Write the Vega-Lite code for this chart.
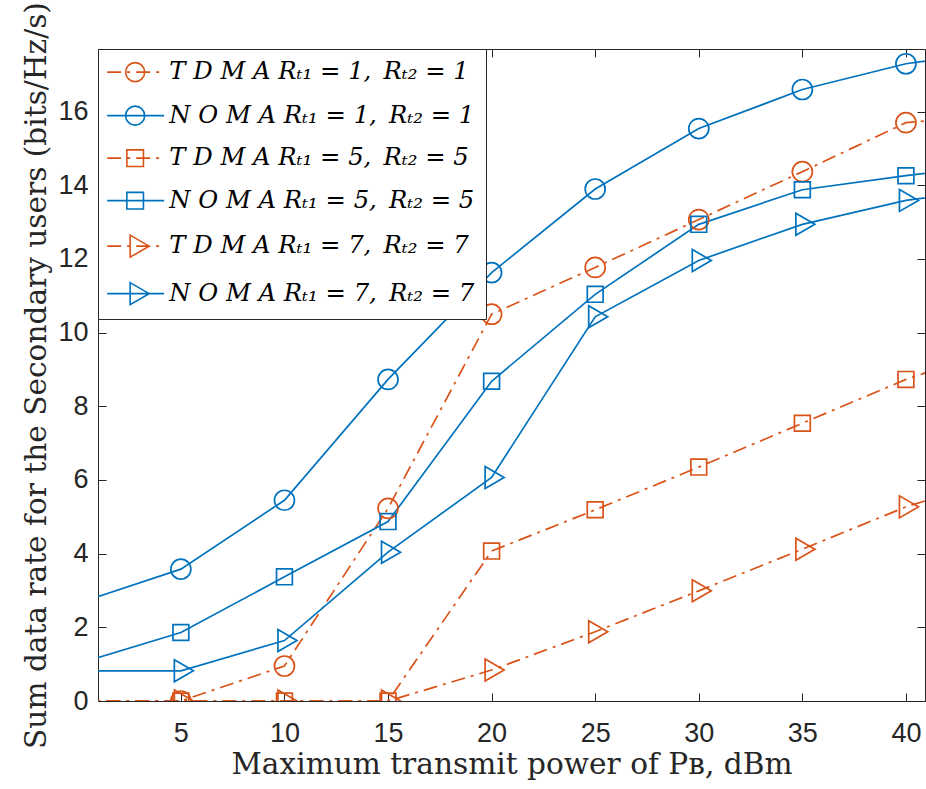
{
  "$schema": "https://vega.github.io/schema/vega-lite/v6.json",
  "width": 827,
  "height": 652,
  "autosize": "none",
  "padding": {"left": 98, "top": 49, "right": 1, "bottom": 88},
  "background": "white",
  "config": {
    "view": {"stroke": "#262626", "strokeWidth": 1},
    "axis": {
      "grid": false,
      "domainColor": "#262626",
      "tickColor": "#262626",
      "labelColor": "#262626",
      "titleColor": "#262626",
      "labelFont": "Liberation Sans",
      "labelFontSize": 27,
      "titleFont": "DejaVu Serif",
      "titleFontSize": 29.6,
      "titleFontWeight": "normal",
      "tickSize": -8,
      "tickWidth": 1,
      "domainWidth": 1
    },
    "legend": {
      "orient": "top-left",
      "offset": 0,
      "padding": 11,
      "fillColor": "white",
      "strokeColor": "#262626",
      "labelFont": "DejaVu Serif",
      "labelFontStyle": "italic",
      "labelFontSize": 24.3,
      "labelColor": "black",
      "labelLimit": 0,
      "symbolSize": 400,
      "symbolStrokeWidth": 1.6,
      "symbolFillColor": "transparent",
      "labelOffset": 36,
      "rowPadding": 17.5
    }
  },
  "data": {
    "values": [
      {"series": "T D M A Rₜ₁ = 1,\u2002Rₜ₂ = 1", "x": 0, "y": 0},
      {"series": "T D M A Rₜ₁ = 1,\u2002Rₜ₂ = 1", "x": 5, "y": 0},
      {"series": "T D M A Rₜ₁ = 1,\u2002Rₜ₂ = 1", "x": 10, "y": 0.95},
      {"series": "T D M A Rₜ₁ = 1,\u2002Rₜ₂ = 1", "x": 15, "y": 5.23},
      {"series": "T D M A Rₜ₁ = 1,\u2002Rₜ₂ = 1", "x": 20, "y": 10.5},
      {"series": "T D M A Rₜ₁ = 1,\u2002Rₜ₂ = 1", "x": 25, "y": 11.77},
      {"series": "T D M A Rₜ₁ = 1,\u2002Rₜ₂ = 1", "x": 30, "y": 13.07},
      {"series": "T D M A Rₜ₁ = 1,\u2002Rₜ₂ = 1", "x": 35, "y": 14.37},
      {"series": "T D M A Rₜ₁ = 1,\u2002Rₜ₂ = 1", "x": 40, "y": 15.7},
      {"series": "T D M A Rₜ₁ = 1,\u2002Rₜ₂ = 1", "x": 45, "y": 15.95},
      {"series": "N O M A Rₜ₁ = 1,\u2002Rₜ₂ = 1", "x": 0, "y": 2.65},
      {"series": "N O M A Rₜ₁ = 1,\u2002Rₜ₂ = 1", "x": 5, "y": 3.58},
      {"series": "N O M A Rₜ₁ = 1,\u2002Rₜ₂ = 1", "x": 10, "y": 5.45},
      {"series": "N O M A Rₜ₁ = 1,\u2002Rₜ₂ = 1", "x": 15, "y": 8.73},
      {"series": "N O M A Rₜ₁ = 1,\u2002Rₜ₂ = 1", "x": 20, "y": 11.63},
      {"series": "N O M A Rₜ₁ = 1,\u2002Rₜ₂ = 1", "x": 25, "y": 13.9},
      {"series": "N O M A Rₜ₁ = 1,\u2002Rₜ₂ = 1", "x": 30, "y": 15.54},
      {"series": "N O M A Rₜ₁ = 1,\u2002Rₜ₂ = 1", "x": 35, "y": 16.6},
      {"series": "N O M A Rₜ₁ = 1,\u2002Rₜ₂ = 1", "x": 40, "y": 17.3},
      {"series": "N O M A Rₜ₁ = 1,\u2002Rₜ₂ = 1", "x": 45, "y": 17.7},
      {"series": "T D M A Rₜ₁ = 5,\u2002Rₜ₂ = 5", "x": 0, "y": 0},
      {"series": "T D M A Rₜ₁ = 5,\u2002Rₜ₂ = 5", "x": 5, "y": 0},
      {"series": "T D M A Rₜ₁ = 5,\u2002Rₜ₂ = 5", "x": 10, "y": 0},
      {"series": "T D M A Rₜ₁ = 5,\u2002Rₜ₂ = 5", "x": 15, "y": 0},
      {"series": "T D M A Rₜ₁ = 5,\u2002Rₜ₂ = 5", "x": 20, "y": 4.07},
      {"series": "T D M A Rₜ₁ = 5,\u2002Rₜ₂ = 5", "x": 25, "y": 5.19},
      {"series": "T D M A Rₜ₁ = 5,\u2002Rₜ₂ = 5", "x": 30, "y": 6.35},
      {"series": "T D M A Rₜ₁ = 5,\u2002Rₜ₂ = 5", "x": 35, "y": 7.54},
      {"series": "T D M A Rₜ₁ = 5,\u2002Rₜ₂ = 5", "x": 40, "y": 8.73},
      {"series": "T D M A Rₜ₁ = 5,\u2002Rₜ₂ = 5", "x": 45, "y": 9.68},
      {"series": "N O M A Rₜ₁ = 5,\u2002Rₜ₂ = 5", "x": 0, "y": 1.01},
      {"series": "N O M A Rₜ₁ = 5,\u2002Rₜ₂ = 5", "x": 5, "y": 1.86},
      {"series": "N O M A Rₜ₁ = 5,\u2002Rₜ₂ = 5", "x": 10, "y": 3.37},
      {"series": "N O M A Rₜ₁ = 5,\u2002Rₜ₂ = 5", "x": 15, "y": 4.87},
      {"series": "N O M A Rₜ₁ = 5,\u2002Rₜ₂ = 5", "x": 20, "y": 8.68},
      {"series": "N O M A Rₜ₁ = 5,\u2002Rₜ₂ = 5", "x": 25, "y": 11.04},
      {"series": "N O M A Rₜ₁ = 5,\u2002Rₜ₂ = 5", "x": 30, "y": 12.94},
      {"series": "N O M A Rₜ₁ = 5,\u2002Rₜ₂ = 5", "x": 35, "y": 13.88},
      {"series": "N O M A Rₜ₁ = 5,\u2002Rₜ₂ = 5", "x": 40, "y": 14.26},
      {"series": "N O M A Rₜ₁ = 5,\u2002Rₜ₂ = 5", "x": 45, "y": 14.62},
      {"series": "T D M A Rₜ₁ = 7,\u2002Rₜ₂ = 7", "x": 0, "y": 0},
      {"series": "T D M A Rₜ₁ = 7,\u2002Rₜ₂ = 7", "x": 5, "y": 0},
      {"series": "T D M A Rₜ₁ = 7,\u2002Rₜ₂ = 7", "x": 10, "y": 0},
      {"series": "T D M A Rₜ₁ = 7,\u2002Rₜ₂ = 7", "x": 15, "y": 0},
      {"series": "T D M A Rₜ₁ = 7,\u2002Rₜ₂ = 7", "x": 20, "y": 0.84},
      {"series": "T D M A Rₜ₁ = 7,\u2002Rₜ₂ = 7", "x": 25, "y": 1.88},
      {"series": "T D M A Rₜ₁ = 7,\u2002Rₜ₂ = 7", "x": 30, "y": 2.99},
      {"series": "T D M A Rₜ₁ = 7,\u2002Rₜ₂ = 7", "x": 35, "y": 4.12},
      {"series": "T D M A Rₜ₁ = 7,\u2002Rₜ₂ = 7", "x": 40, "y": 5.27},
      {"series": "T D M A Rₜ₁ = 7,\u2002Rₜ₂ = 7", "x": 45, "y": 6.15},
      {"series": "N O M A Rₜ₁ = 7,\u2002Rₜ₂ = 7", "x": 0, "y": 0.82},
      {"series": "N O M A Rₜ₁ = 7,\u2002Rₜ₂ = 7", "x": 5, "y": 0.82},
      {"series": "N O M A Rₜ₁ = 7,\u2002Rₜ₂ = 7", "x": 10, "y": 1.64},
      {"series": "N O M A Rₜ₁ = 7,\u2002Rₜ₂ = 7", "x": 15, "y": 4.04},
      {"series": "N O M A Rₜ₁ = 7,\u2002Rₜ₂ = 7", "x": 20, "y": 6.07},
      {"series": "N O M A Rₜ₁ = 7,\u2002Rₜ₂ = 7", "x": 25, "y": 10.43},
      {"series": "N O M A Rₜ₁ = 7,\u2002Rₜ₂ = 7", "x": 30, "y": 11.96},
      {"series": "N O M A Rₜ₁ = 7,\u2002Rₜ₂ = 7", "x": 35, "y": 12.94},
      {"series": "N O M A Rₜ₁ = 7,\u2002Rₜ₂ = 7", "x": 40, "y": 13.59},
      {"series": "N O M A Rₜ₁ = 7,\u2002Rₜ₂ = 7", "x": 45, "y": 13.95}
    ]
  },
  "resolve": {"axis": {"x": "independent", "y": "independent"}},
  "layer": [
    {
      "transform": [{"filter": "indexof(datum.series, 'T D M A') == 0"}],
      "mark": {"type": "line", "clip": true, "strokeWidth": 1.7, "strokeDash": [14, 6, 3, 6]},
      "encoding": {
        "x": {"field": "x", "type": "quantitative", "scale": {"domain": [1, 40.92], "nice": false, "zero": false},
          "axis": {"orient": "bottom", "values": [5, 10, 15, 20, 25, 30, 35, 40], "title": "Maximum transmit power of Pʙ, dBm", "labelPadding": 27, "titlePadding": 4}},
        "y": {"field": "y", "type": "quantitative", "scale": {"domain": [0, 17.7], "nice": false},
          "axis": {"orient": "left", "values": [0, 2, 4, 6, 8, 10, 12, 14, 16], "title": "Sum data rate for the Secondary users (bits/Hz/s)", "labelPadding": 18, "titlePadding": 6}},
        "color": {"field": "series", "type": "nominal",
          "scale": {"domain": ["T D M A Rₜ₁ = 1,\u2002Rₜ₂ = 1", "N O M A Rₜ₁ = 1,\u2002Rₜ₂ = 1", "T D M A Rₜ₁ = 5,\u2002Rₜ₂ = 5", "N O M A Rₜ₁ = 5,\u2002Rₜ₂ = 5", "T D M A Rₜ₁ = 7,\u2002Rₜ₂ = 7", "N O M A Rₜ₁ = 7,\u2002Rₜ₂ = 7"],
            "range": ["#D95319", "#0072BD", "#D95319", "#0072BD", "#D95319", "#0072BD"]},
          "legend": {"title": null}}
      }
    },
    {
      "transform": [{"filter": "indexof(datum.series, 'N O M A') == 0"}],
      "mark": {"type": "line", "clip": true, "strokeWidth": 1.7},
      "encoding": {
        "x": {"field": "x", "type": "quantitative", "axis": null},
        "y": {"field": "y", "type": "quantitative", "axis": null},
        "color": {"field": "series", "type": "nominal", "legend": {"title": null}}
      }
    },
    {
      "transform": [{"filter": {"field": "series", "oneOf": ["T D M A Rₜ₁ = 1,\u2002Rₜ₂ = 1", "N O M A Rₜ₁ = 1,\u2002Rₜ₂ = 1"]}}],
      "mark": {"type": "point", "shape": "circle", "size": 400, "filled": false, "strokeWidth": 1.7, "clip": true, "opacity": 1},
      "encoding": {
        "x": {"field": "x", "type": "quantitative", "axis": null},
        "y": {"field": "y", "type": "quantitative", "axis": null},
        "color": {"field": "series", "type": "nominal", "legend": {"title": null}}
      }
    },
    {
      "transform": [{"filter": {"field": "series", "oneOf": ["T D M A Rₜ₁ = 5,\u2002Rₜ₂ = 5", "N O M A Rₜ₁ = 5,\u2002Rₜ₂ = 5"]}}],
      "mark": {"type": "point", "shape": "M-0.79,-0.79H0.79V0.79H-0.79Z", "size": 400, "filled": false, "strokeWidth": 1.7, "clip": true, "opacity": 1},
      "encoding": {
        "x": {"field": "x", "type": "quantitative", "axis": null},
        "y": {"field": "y", "type": "quantitative", "axis": null},
        "color": {"field": "series", "type": "nominal", "legend": {"title": null}}
      }
    },
    {
      "transform": [{"filter": {"field": "series", "oneOf": ["T D M A Rₜ₁ = 7,\u2002Rₜ₂ = 7", "N O M A Rₜ₁ = 7,\u2002Rₜ₂ = 7"]}}],
      "mark": {"type": "point", "shape": "M-0.65,-1.1L1.25,0L-0.65,1.1Z", "size": 400, "filled": false, "strokeWidth": 1.7, "clip": true, "opacity": 1},
      "encoding": {
        "x": {"field": "x", "type": "quantitative", "axis": null},
        "y": {"field": "y", "type": "quantitative", "axis": null},
        "color": {"field": "series", "type": "nominal", "legend": {"title": null}}
      }
    },
    {
      "transform": [{"filter": "datum.y > 1000"}],
      "mark": {"type": "point", "filled": false, "strokeWidth": 1.6, "opacity": 1},
      "encoding": {
        "x": {"field": "x", "type": "quantitative",
          "axis": {"orient": "top", "values": [5, 10, 15, 20, 25, 30, 35, 40], "labels": false, "title": null}},
        "y": {"field": "y", "type": "quantitative",
          "axis": {"orient": "right", "values": [0, 2, 4, 6, 8, 10, 12, 14, 16], "labels": false, "title": null}},
        "color": {"field": "series", "type": "nominal", "legend": {"title": null}},
        "shape": {"field": "series", "type": "nominal",
          "scale": {"domain": ["T D M A Rₜ₁ = 1,\u2002Rₜ₂ = 1", "N O M A Rₜ₁ = 1,\u2002Rₜ₂ = 1", "T D M A Rₜ₁ = 5,\u2002Rₜ₂ = 5", "N O M A Rₜ₁ = 5,\u2002Rₜ₂ = 5", "T D M A Rₜ₁ = 7,\u2002Rₜ₂ = 7", "N O M A Rₜ₁ = 7,\u2002Rₜ₂ = 7"],
            "range": [
              "M-1.4,0H0M0.6,0H0.9M1.5,0H2.9M3.5,0H3.8M0.45,0A0.95,0.95,0,1,0,2.35,0A0.95,0.95,0,1,0,0.45,0Z",
              "M-1.4,0H4.3M0.45,0A0.95,0.95,0,1,0,2.35,0A0.95,0.95,0,1,0,0.45,0Z",
              "M-1.4,0H0M0.6,0H0.9M1.5,0H2.9M3.5,0H3.8M0.57,-0.83H2.23V0.83H0.57Z",
              "M-1.4,0H4.3M0.57,-0.83H2.23V0.83H0.57Z",
              "M-1.4,0H0M0.6,0H0.9M1.5,0H2.9M3.5,0H3.8M0.9,-1.1L2.8,0L0.9,1.1Z",
              "M-1.4,0H4.3M0.9,-1.1L2.8,0L0.9,1.1Z"
            ]},
          "legend": {"title": null}}
      }
    }
  ]
}
